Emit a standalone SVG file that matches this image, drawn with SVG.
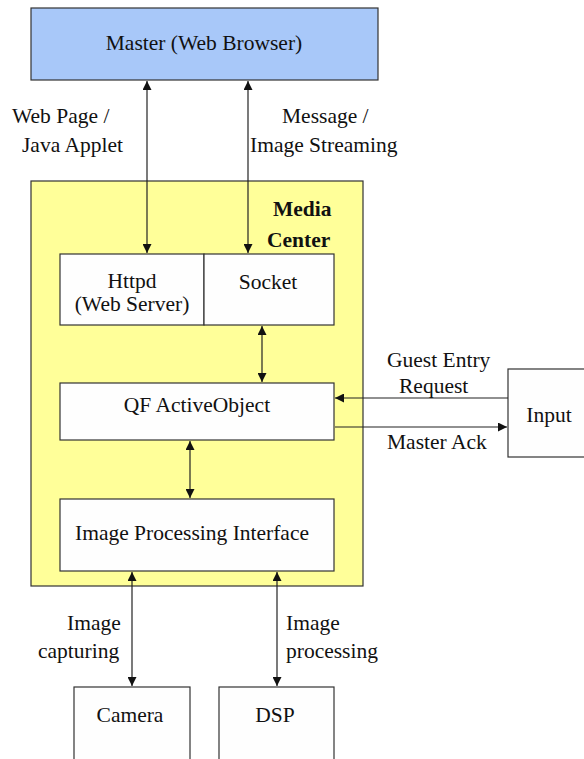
<svg xmlns="http://www.w3.org/2000/svg" width="584" height="759" viewBox="0 0 584 759">
<style>
.b{stroke:#333;stroke-width:1.2}
.w{fill:#fefefe}
text{font-family:"Liberation Serif","Times New Roman",serif;font-size:21.5px;fill:#111}
.c{text-anchor:middle}
.bold{font-weight:bold}
.ln{stroke:#222;stroke-width:1.2;fill:none}
</style>
<defs>
<marker id="a" viewBox="0 0 10 10" refX="10" refY="5" markerWidth="9" markerHeight="9" markerUnits="userSpaceOnUse" orient="auto-start-reverse">
<path d="M0,0 L10,5 L0,10 z" fill="#111"/>
</marker>
</defs>
<g id="master"><rect class="b" x="31" y="8" width="347" height="72" fill="#a8c8f9"/><text class="c" x="204" y="50">Master (Web Browser)</text></g>
<g id="media-center"><rect class="b" x="31" y="181" width="332" height="405" fill="#ffff99"/><text class="bold" x="273" y="216">Media</text><text class="bold" x="267" y="247">Center</text></g>
<g id="httpd"><rect class="b w" x="60" y="254" width="144" height="71"/><text class="c" x="132" y="288">Httpd</text><text class="c" x="132" y="311">(Web Server)</text></g>
<g id="socket"><rect class="b w" x="204" y="254" width="130" height="71"/><text class="c" x="268" y="289">Socket</text></g>
<g id="qf"><rect class="b w" x="60" y="383" width="274" height="57"/><text class="c" x="197" y="412">QF ActiveObject</text></g>
<g id="ipi"><rect class="b w" x="60" y="499" width="274" height="72"/><text x="75" y="540">Image Processing Interface</text></g>
<g id="input"><rect class="b w" x="508" y="369" width="80" height="88"/><text class="c" x="549" y="422">Input</text></g>
<g id="camera"><rect class="b w" x="74" y="687" width="116" height="80"/><text class="c" x="130" y="722">Camera</text></g>
<g id="dsp"><rect class="b w" x="219" y="687" width="115" height="80"/><text class="c" x="275" y="722">DSP</text></g>
<g id="connectors">
<line class="ln" x1="147" y1="81" x2="147" y2="253" marker-start="url(#a)" marker-end="url(#a)"/>
<line class="ln" x1="248" y1="81" x2="248" y2="253" marker-start="url(#a)" marker-end="url(#a)"/>
<line class="ln" x1="262" y1="326" x2="262" y2="382" marker-start="url(#a)" marker-end="url(#a)"/>
<line class="ln" x1="190" y1="441" x2="190" y2="498" marker-start="url(#a)" marker-end="url(#a)"/>
<line class="ln" x1="508" y1="398" x2="335" y2="398" marker-end="url(#a)"/>
<line class="ln" x1="335" y1="427" x2="507" y2="427" marker-end="url(#a)"/>
<line class="ln" x1="132" y1="572" x2="132" y2="686" marker-start="url(#a)" marker-end="url(#a)"/>
<line class="ln" x1="277" y1="572" x2="277" y2="686" marker-start="url(#a)" marker-end="url(#a)"/>
</g>
<g id="labels">
<text x="12" y="123">Web Page /</text>
<text x="22" y="152">Java Applet</text>
<text x="282" y="123">Message /</text>
<text x="250" y="152">Image Streaming</text>
<text x="387" y="367">Guest Entry</text>
<text x="399" y="393">Request</text>
<text x="387" y="449">Master Ack</text>
<text x="67" y="630">Image</text>
<text x="38" y="658">capturing</text>
<text x="286" y="630">Image</text>
<text x="286" y="658">processing</text>
</g>
</svg>
